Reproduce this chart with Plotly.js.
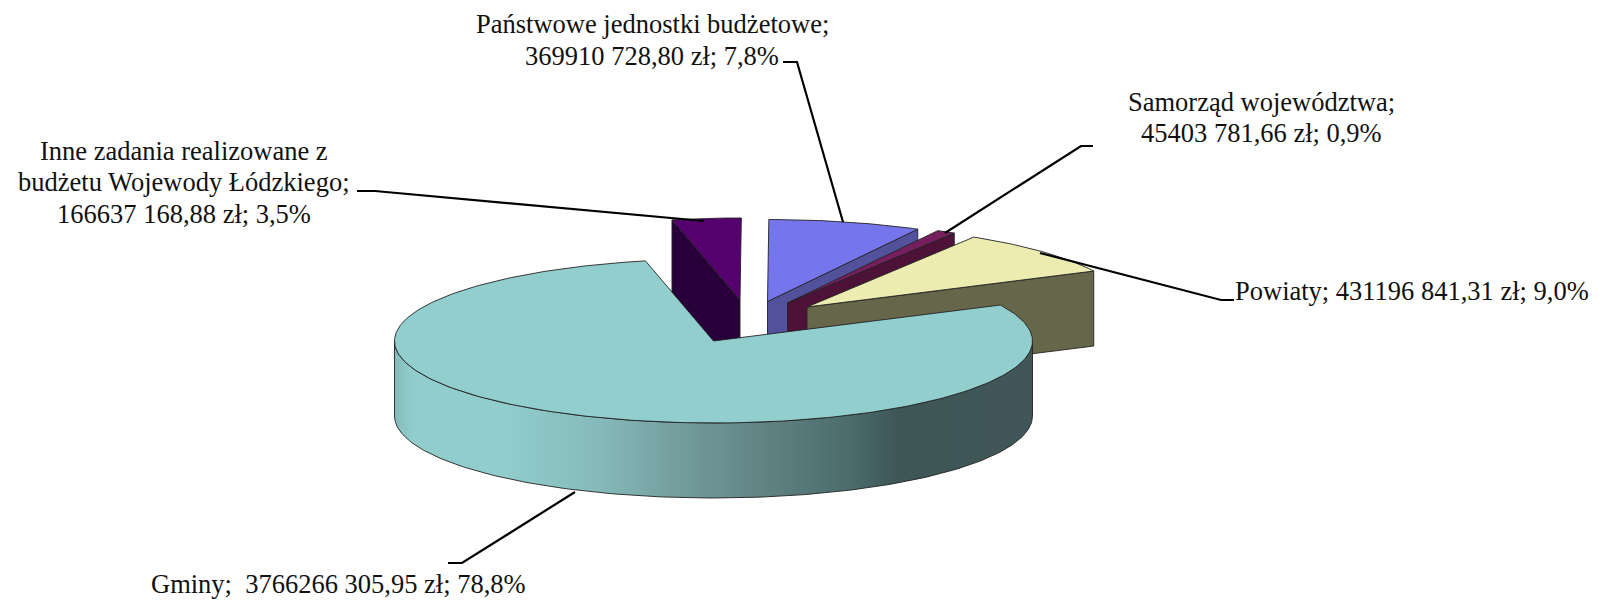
<!DOCTYPE html>
<html><head><meta charset="utf-8">
<script src="https://cdn.plot.ly/plotly-3.0.1.min.js"></script>
<style>html,body{margin:0;padding:0;background:#fff}#c{width:1601px;height:601px}</style>
</head><body><div id="c"></div>
<script>
// ---- data ----
const categories = ["Gminy","Inne zadania","Państwowe jednostki budżetowe","Samorząd województwa","Powiaty"];
const values = [3766266305.95,166637168.88,369910728.80,45403781.66,431196841.31];
const topColors = ["#92CECE","#560070","#7676EC","#771F5E","#ECECB0"];
const wallColors = ["#405658","#28003A","#52529C","#4E1238","#66664A"];
// label lines: text, x, y, anchor
const labelTexts = ["Państwowe jednostki budżetowe;","369910 728,80 zł; 7,8%","Samorząd województwa;","45403 781,66 zł; 0,9%","Powiaty; 431196 841,31 zł; 9,0%","Gminy;  3766266 305,95 zł; 78,8%","Inne zadania realizowane z","budżetu Wojewody Łódzkiego;","166637 168,88 zł; 3,5%"];
const labelX = [652,652,1261,1261,1233,149,184,184,184];
const labelY = [24,56,102,133,291,584,151,182,214];
const labelAnchor = ["center","center","center","center","left","left","center","center","center"];
// pie geometry
const pieCx = 713.5, pieCy = 341, rx = 319, ry = 82, depth = 75, startDeg = 26;
const explodeX = [0,26.5,54,74,93.5];
const explodeY = [0,-41,-39.5,-38,-34];
// leader lines
const leaderX = [[448,462,575],[357,375,704],[783,797,843],[1093,1081,945],[1234,1221,1040]];
const leaderY = [[563,563,492],[191,191,221],[62,62,222],[146,146,233],[300,300,253]];

// ---- drawing ----
const total = values.reduce((a,b)=>a+b,0);
const traces = [];
const edge = {color:"#222",width:0.9};
function poly(x,y,color,extra){
  traces.push(Object.assign({type:"scatter",mode:"lines",x:x,y:y,fill:"toself",fillcolor:color,line:edge,hoverinfo:"skip",showlegend:false},extra||{}));
}
let a = startDeg;
const spans = values.map(v=>{const s=a,e=a-v/total*360;a=e;return [s,e];});
function pt(i,t){const r=t*Math.PI/180;return [pieCx+explodeX[i]+rx*Math.cos(r),pieCy+explodeY[i]-ry*Math.sin(r)];}
function face(i){
  const ax=pieCx+explodeX[i],ay=pieCy+explodeY[i];
  const X=[ax],Y=[ay];const [s,e]=spans[i];
  const n=Math.max(2,Math.ceil((s-e)));
  for(let k=0;k<=n;k++){const p=pt(i,s+(e-s)*k/n);X.push(p[0]);Y.push(p[1]);}
  X.push(ax);Y.push(ay);poly(X,Y,topColors[i]);
}
function radialWall(i){
  const ax=pieCx+explodeX[i],ay=pieCy+explodeY[i];
  const [s,e]=spans[i];
  const mid=(s+e)/2;
  const t=Math.cos(mid*Math.PI/180)<0?s:e;
  const p=pt(i,t);
  poly([ax,p[0],p[0],ax,ax],[ay,p[1],p[1]+depth,ay+depth,ay],wallColors[i]);
}
[1,2,3,4].forEach(i=>{radialWall(i);face(i);});
// front wall of the large slice, lit from the left
const fx=[],fy=[];
for(let t=180;t<=360;t+=1){const p=pt(0,t);fx.push(p[0]);fy.push(p[1]);}
for(let t=360;t>=180;t-=1){const p=pt(0,t);fx.push(p[0]);fy.push(p[1]+depth);}
fx.push(fx[0]);fy.push(fy[0]);
poly(fx,fy,"#92CECE",{fillgradient:{type:"horizontal",colorscale:[[0,"#86BBBB"],[0.03,"#92CDCD"],[0.17,"#92CDCD"],[0.32,"#85BABA"],[0.45,"#739C9C"],[0.59,"#5F8182"],[0.72,"#4A6A6B"],[0.79,"#3F5657"],[1,"#405658"]]}});
face(0);
leaderX.forEach((x,i)=>traces.push({type:"scatter",mode:"lines",x:x,y:leaderY[i],line:{color:"#000",width:2.2},hoverinfo:"skip",showlegend:false}));

const annotations = labelTexts.map((t,i)=>({text:t,x:labelX[i],y:labelY[i],xref:"x",yref:"y",xanchor:labelAnchor[i],yanchor:"middle",showarrow:false,font:{family:"Liberation Serif",size:26.5,color:"#111"}}));
Plotly.newPlot("c",traces,{
  width:1601,height:601,margin:{l:0,r:0,t:0,b:0},paper_bgcolor:"#fff",plot_bgcolor:"#fff",showlegend:false,
  xaxis:{range:[0,1601],visible:false,fixedrange:true},
  yaxis:{range:[601,0],visible:false,fixedrange:true},
  annotations:annotations
},{displayModeBar:false,staticPlot:true});
</script></body></html>
